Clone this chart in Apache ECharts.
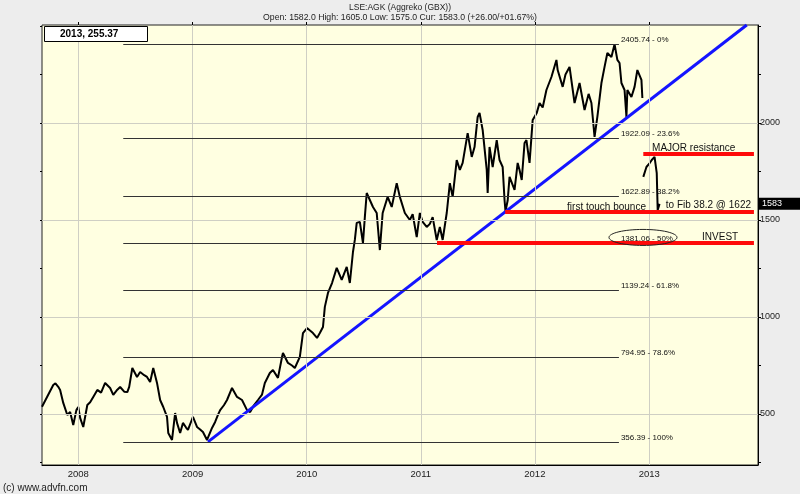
<!DOCTYPE html>
<html><head><meta charset="utf-8">
<script src="https://cdn.jsdelivr.net/npm/echarts@6/dist/echarts.min.js"></script>
<style>html,body{margin:0;padding:0;background:#ededed}#c{width:800px;height:494px}</style>
</head><body><div id="c"></div>
<script>
// ---- Data ----
const priceDates = [
'2007-09-07','2007-09-24','2007-10-13','2007-10-20','2007-10-29','2007-11-04','2007-11-14','2007-11-27','2007-12-06','2007-12-16',
'2007-12-26','2008-01-01','2008-01-07','2008-01-17','2008-01-30','2008-02-08','2008-02-18','2008-03-02','2008-03-14','2008-03-27',
'2008-04-12','2008-04-22','2008-05-05','2008-05-14','2008-05-27','2008-06-06','2008-06-12','2008-06-22','2008-06-25','2008-07-07',
'2008-07-17','2008-07-30','2008-08-08','2008-08-18','2008-08-28','2008-09-09','2008-09-19','2008-09-29','2008-10-11','2008-10-15',
'2008-10-27','2008-11-06','2008-11-12','2008-11-22','2008-12-01','2008-12-11','2008-12-17','2008-12-27','2009-01-02','2009-01-15',
'2009-01-25','2009-02-03','2009-02-16','2009-02-19','2009-03-04','2009-03-14','2009-03-23','2009-03-30','2009-04-11','2009-04-21',
'2009-05-07','2009-05-23','2009-06-08','2009-06-24','2009-07-04','2009-07-16','2009-07-29','2009-08-11','2009-08-20','2009-09-05',
'2009-09-15','2009-10-01','2009-10-14','2009-10-17','2009-11-02','2009-11-15','2009-11-24','2009-12-10','2009-12-20','2010-01-02',
'2010-01-21','2010-02-03','2010-02-12','2010-02-22','2010-02-28','2010-03-10','2010-03-23','2010-04-07','2010-04-23','2010-05-09',
'2010-05-19','2010-05-29','2010-06-04','2010-06-10','2010-06-20','2010-06-30','2010-07-06','2010-07-12','2010-07-22','2010-08-01',
'2010-08-13','2010-08-23','2010-09-01','2010-09-17','2010-09-30','2010-10-16','2010-10-26','2010-11-11','2010-11-27','2010-12-06',
'2010-12-19','2010-12-29','2011-01-07','2011-01-20','2011-01-30','2011-02-08','2011-02-21','2011-03-03','2011-03-12','2011-03-25',
'2011-04-04','2011-04-13','2011-04-26','2011-05-06','2011-05-15','2011-05-31','2011-06-13','2011-06-22','2011-07-02','2011-07-08',
'2011-07-18','2011-07-31','2011-08-03','2011-08-09','2011-08-19','2011-09-01','2011-09-10','2011-09-20','2011-09-26','2011-09-29',
'2011-10-06','2011-10-12','2011-10-28','2011-11-07','2011-11-13','2011-11-20','2011-11-29','2011-12-05','2011-12-15','2011-12-25',
'2012-01-07','2012-01-16','2012-01-26','2012-02-07','2012-02-23','2012-03-10','2012-03-14','2012-03-30','2012-04-08','2012-04-21',
'2012-05-07','2012-05-23','2012-06-08','2012-06-21','2012-06-30','2012-07-10','2012-07-19','2012-08-01','2012-08-11','2012-08-20',
'2012-09-02','2012-09-12','2012-09-21','2012-09-28','2012-10-04','2012-10-14','2012-10-20','2012-10-23','2012-11-05','2012-11-15',
'2012-11-24','2012-12-07','2012-12-10','2012-12-11','2012-12-13','2012-12-23','2013-01-01','2013-01-09','2013-01-18','2013-01-25',
'2013-01-28','2013-02-03'
];
const priceValues = [
537,590,649,658,640,624,557,495,510,443,
520,536,480,433,546,560,588,624,610,660,
634,598,625,639,615,613,640,737,742,691,
716,700,691,665,737,660,572,536,485,402,
366,505,454,402,454,430,418,460,485,433,
420,407,366,356,428,459,495,520,545,572,
634,588,572,520,510,545,572,600,660,711,
727,686,794,814,763,750,737,794,917,943,
917,892,917,948,1052,1124,1175,1253,1191,1258,
1175,1335,1397,1485,1490,1381,1515,1639,1603,1567,
1536,1345,1536,1619,1567,1690,1619,1536,1500,1530,
1412,1536,1490,1464,1480,1515,1397,1464,1397,1536,
1690,1619,1809,1758,1794,1948,1825,1876,2031,2052,
1964,1758,1639,1876,1773,1912,1809,1773,1603,1545,
1600,1722,1655,1794,1758,1706,1897,1912,1794,2015,
2052,2103,2080,2170,2237,2325,2273,2186,2250,2289,
2103,2206,2067,2150,2103,1928,2031,2206,2289,2361,
2340,2406,2325,2309,2206,2170,2031,2170,2134,2186,
2273,2222,2129,null,1722,1773,1790,1809,1825,1742,
1551,1583
];
const fibLevels = [2405.74, 1922.09, 1622.89, 1381.06, 1139.24, 794.95, 356.39];
const fibPercents = ['0', '23.6', '38.2', '50', '61.8', '78.6', '100'];
const fibRange = ['2008-05-24', '2012-09-26'];
const trendDates = ['2009-02-19', '2013-11-09'];
const trendValues = [356.39, 2505];
const redLabels = ['MAJOR resistance', 'first touch bounce', 'INVEST'];
const redStarts = ['2012-12-13', '2011-09-28', '2011-02-22'];
const redValues = [1840, 1541, 1383];
const redEnd = '2013-12-02';
const yearTicks = [2008, 2009, 2010, 2011, 2012, 2013];
const priceTicks = [500, 1000, 1500, 2000];
const minorPriceTicks = [250, 500, 750, 1000, 1250, 1500, 1750, 2000, 2250, 2500];
const currentPrice = 1583;
const titleText = 'LSE:AGK (Aggreko (GBX))';
const subtitleText = 'Open: 1582.0 High: 1605.0 Low: 1575.0 Cur: 1583.0 (+26.00/+01.67%)';
const cursorText = '2013, 255.37';

// ---- Chart ----
const FONT = '"Liberation Sans", Arial, sans-serif';
const ts = s => +echarts.time.parse(s);
const yearTs = yearTicks.map(y => +new Date(y, 0, 1));
const xMin = ts('2007-09-07'), xMax = ts('2013-12-15');
const chart = echarts.init(document.getElementById('c'), null, {renderer: 'canvas'});

const priceData = priceDates.map((d, i) => [ts(d), priceValues[i] == null ? '-' : priceValues[i]]);

const gridLineData = [
  ...priceTicks.map(v => ({yAxis: v})),
  ...yearTs.map(t => ({xAxis: t}))
];
const fibData = fibLevels.map((v, i) => [
  {coord: [ts(fibRange[0]), v], fibLabel: v.toFixed(2) + ' - ' + fibPercents[i] + '%'},
  {coord: [ts(fibRange[1]), v]}
]);
const redData = redValues.map((v, i) => [{coord: [ts(redStarts[i]), v]}, {coord: [ts(redEnd), v]}]);

chart.setOption({
  animation: false,
  backgroundColor: '#ededed',
  textStyle: {fontFamily: FONT},
  grid: {left: 42, right: 42, top: 25, bottom: 29, show: true, backgroundColor: '#ffffe1', borderColor: '#222', borderWidth: 1},
  xAxis: [{
    type: 'value', min: xMin, max: xMax,
    axisLine: {show: true, lineStyle: {color: '#000'}},
    axisTick: {show: false},
    splitLine: {show: false},
    axisLabel: {customValues: yearTs, formatter: v => String(new Date(v).getFullYear()), fontSize: 9.5, color: '#222', margin: 4, fontFamily: FONT}
  }, {
    type: 'value', position: 'top', min: xMin, max: xMax,
    axisLine: {show: false}, axisLabel: {show: false}, splitLine: {show: false},
    axisTick: {show: true, customValues: yearTs, length: 3, lineStyle: {color: '#000'}}
  }],
  yAxis: [{
    type: 'value', position: 'right', min: 237, max: 2505,
    axisLine: {show: true, lineStyle: {color: '#000'}},
    axisTick: {show: true, customValues: minorPriceTicks, length: 3, lineStyle: {color: '#000'}},
    splitLine: {show: false},
    axisLabel: {customValues: priceTicks, formatter: v => String(v), fontSize: 9, color: '#222', margin: 2, fontFamily: FONT}
  }, {
    type: 'value', position: 'left', min: 237, max: 2505,
    axisLine: {show: false}, axisLabel: {show: false}, splitLine: {show: false},
    axisTick: {show: true, customValues: minorPriceTicks, length: 2, lineStyle: {color: '#000'}}
  }],
  series: [{
    type: 'line', data: [], silent: true, z: 1,
    markLine: {silent: true, symbol: 'none', animation: false, label: {show: false},
      lineStyle: {color: '#cfcfc4', width: 1, type: 'solid'}, data: gridLineData}
  }, {
    type: 'line', data: [], silent: true, z: 2,
    markLine: {silent: true, symbol: 'none', animation: false,
      lineStyle: {color: '#333', width: 1, type: 'solid'},
      label: {show: true, position: 'end', distance: 2, offset: [0, -4], fontSize: 8, color: '#111', fontFamily: FONT,
        formatter: p => p.data.fibLabel || ''},
      data: fibData}
  }, {
    type: 'line', data: priceData, showSymbol: false, z: 3, connectNulls: false,
    lineStyle: {color: '#000', width: 2}
  }, {
    type: 'line', data: trendDates.map((d, i) => [ts(d), trendValues[i]]), showSymbol: false, z: 4,
    lineStyle: {color: '#1414ff', width: 3}
  }, {
    type: 'line', data: [], silent: true, z: 4,
    markLine: {silent: true, symbol: 'none', animation: false, label: {show: false},
      lineStyle: {color: '#ff0a0a', width: 4, type: 'solid'}, data: redData}
  }]
});

// ---- Annotations placed from data coordinates ----
const px = (d, v) => chart.convertToPixel({gridIndex: 0}, [ts(d), v]);
const ann = [
  {text: redLabels[0], at: px('2013-01-10', 1871)},
  {text: redLabels[1], at: px('2012-04-13', 1567)},
  {text: 'to Fib 38.2 @ 1622', at: px('2013-02-23', 1577)},
  {text: redLabels[2], at: px('2013-06-19', 1412)}
];
const ell = px('2012-12-12', 1410);
const curY = px('2013-01-01', currentPrice)[1];
const graphics = [
  {type: 'text', left: 'center', top: 3, style: {text: titleText, font: '8.5px ' + FONT, fill: '#222'}},
  {type: 'text', left: 'center', top: 13, style: {text: subtitleText, font: '8.7px ' + FONT, fill: '#222'}},
  {type: 'rect', shape: {x: 44.5, y: 26.5, width: 103, height: 15}, style: {fill: '#fff', stroke: '#000', lineWidth: 1}, z: 100},
  {type: 'text', x: 60, y: 34, style: {text: cursorText, font: 'bold 10px ' + FONT, fill: '#000', textVerticalAlign: 'middle'}, z: 101},
  {type: 'text', x: 3, y: 488, style: {text: '(c) www.advfn.com', font: '10px ' + FONT, fill: '#222', textVerticalAlign: 'middle'}},
  {type: 'ellipse', shape: {cx: ell[0], cy: ell[1], rx: 34, ry: 8}, style: {fill: 'none', stroke: '#222', lineWidth: 1}, z: 100},
  {type: 'rect', shape: {x: 759, y: curY - 6, width: 41, height: 12}, style: {fill: '#000'}, z: 100},
  {type: 'text', x: 762, y: curY, style: {text: String(currentPrice), font: '9px ' + FONT, fill: '#fff', textVerticalAlign: 'middle'}, z: 101},
  ...ann.map(a => ({type: 'text', x: a.at[0], y: a.at[1], style: {text: a.text, font: '10px ' + FONT, fill: '#111', textVerticalAlign: 'middle'}, z: 100}))
];
chart.setOption({graphic: graphics});
</script></body></html>
